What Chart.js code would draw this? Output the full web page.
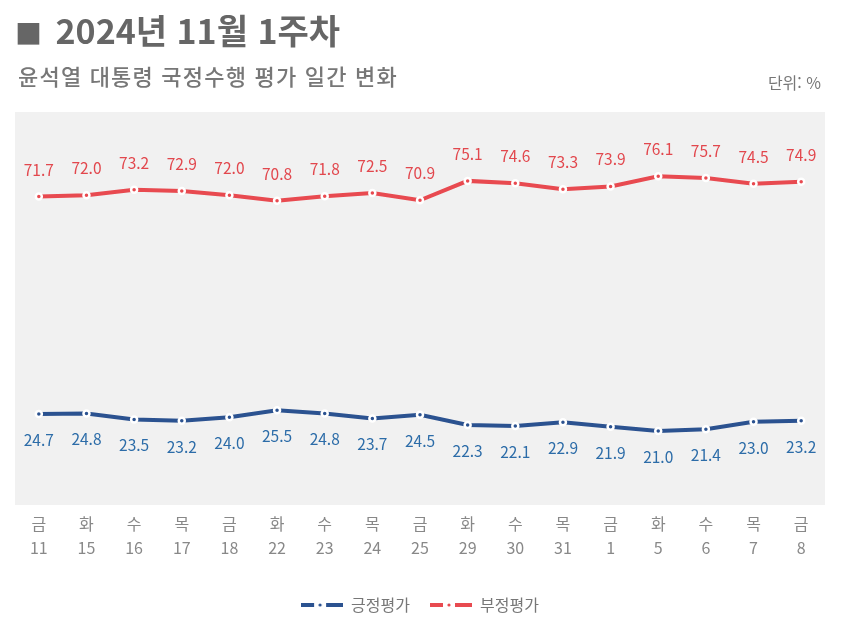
<!DOCTYPE html>
<html lang="ko">
<head>
    <meta charset="UTF-8">
    <title>2024년 11월 1주차</title>
    <script src="https://cdn.jsdelivr.net/npm/chart.js"></script>
    <style>
        body {
            margin: 0;
            padding: 0;
            width: 850px;
            height: 636px;
            background: #fff;
            font-family: "Noto Sans CJK KR", "Noto Sans", sans-serif;
            position: relative;
            overflow: hidden;
        }
        #title {
            position: absolute;
            left: 15px;
            top: 5px;
            font-size: 34px;
            font-weight: 700;
            color: #666;
        }
        #title .sq {
            font-size: 27px;
            margin-right: 4px;
        }
        #subtitle {
            position: absolute;
            left: 18px;
            top: 59px;
            font-size: 22px;
            font-weight: 500;
            letter-spacing: 1.2px;
            color: #777;
        }
        #unit {
            position: absolute;
            right: 29px;
            top: 70px;
            font-size: 16px;
            color: #777;
        }
        #wrap {
            position: absolute;
            left: 0;
            top: 0;
            width: 850px;
            height: 636px;
        }
    </style>
</head>
<body>
    <div id="wrap"><canvas id="chart"></canvas></div>
    <div id="title"><span class="sq">■</span> 2024년 11월 1주차</div>
    <div id="subtitle">윤석열 대통령 국정수행 평가 일간 변화</div>
    <div id="unit">단위: %</div>
    <script>
        // 요일 / 날짜
        const weekdays = ['금', '화', '수', '목', '금', '화', '수', '목', '금', '화', '수', '목', '금', '화', '수', '목', '금'];
        const days = ['11', '15', '16', '17', '18', '22', '23', '24', '25', '29', '30', '31', '1', '5', '6', '7', '8'];

        const positive = [24.7, 24.8, 23.5, 23.2, 24.0, 25.5, 24.8, 23.7, 24.5, 22.3, 22.1, 22.9, 21.9, 21.0, 21.4, 23.0, 23.2];
        const negative = [71.7, 72.0, 73.2, 72.9, 72.0, 70.8, 71.8, 72.5, 70.9, 75.1, 74.6, 73.3, 73.9, 76.1, 75.7, 74.5, 74.9];

        const BLUE = '#2b5290';
        const BLUE_TEXT = '#2c6ca8';
        const RED = '#e84a50';
        const RED_TEXT = '#e2474d';

        const labels = weekdays.map((w, i) => [w, days[i]]);

        // 범례 기호 (—·—)
        function legendSymbol(color) {
            const c = document.createElement('canvas');
            c.width = 42;
            c.height = 8;
            const g = c.getContext('2d');
            g.fillStyle = color;
            g.fillRect(0, 2, 13, 4);
            g.beginPath();
            g.arc(19, 4, 1.6, 0, Math.PI * 2);
            g.fill();
            g.fillRect(25, 2, 17, 4);
            return c;
        }

        const plotBackground = {
            id: 'plotBackground',
            beforeDraw(chart) {
                const { ctx, chartArea: a } = chart;
                ctx.save();
                ctx.fillStyle = '#f1f1f1';
                ctx.fillRect(a.left, a.top, a.right - a.left, a.bottom - a.top);
                ctx.restore();
            }
        };

        const valueLabels = {
            id: 'valueLabels',
            afterDatasetsDraw(chart, args, opts) {
                const ctx = chart.ctx;
                ctx.save();
                ctx.font = '15.5px "Noto Sans CJK KR", "Noto Sans", sans-serif';
                ctx.textAlign = 'center';
                ctx.textBaseline = 'middle';
                chart.data.datasets.forEach((ds, di) => {
                    const meta = chart.getDatasetMeta(di);
                    ctx.fillStyle = opts.colors[di];
                    meta.data.forEach((pt, i) => {
                        ctx.fillText(ds.data[i].toFixed(1), pt.x, pt.y + opts.offsets[di]);
                    });
                });
                ctx.restore();
            }
        };

        const ctx = document.getElementById('chart').getContext('2d');
        new Chart(ctx, {
            type: 'line',
            data: {
                labels: labels,
                datasets: [
                    {
                        label: '긍정평가',
                        data: positive,
                        borderColor: BLUE,
                        backgroundColor: BLUE,
                        borderWidth: 4,
                        pointRadius: 3,
                        pointBorderWidth: 2.5,
                        pointBorderColor: '#fff',
                        pointBackgroundColor: BLUE,
                        tension: 0
                    },
                    {
                        label: '부정평가',
                        data: negative,
                        borderColor: RED,
                        backgroundColor: RED,
                        borderWidth: 4,
                        pointRadius: 3,
                        pointBorderWidth: 2.5,
                        pointBorderColor: '#fff',
                        pointBackgroundColor: RED,
                        tension: 0
                    }
                ]
            },
            options: {
                responsive: true,
                maintainAspectRatio: false,
                animation: false,
                layout: {
                    padding: { top: 112, left: 15, right: 25, bottom: 13 }
                },
                scales: {
                    x: {
                        offset: true,
                        grid: { display: false, drawTicks: false },
                        border: { display: false },
                        ticks: {
                            color: '#888',
                            padding: 7,
                            maxRotation: 0,
                            autoSkip: false,
                            font: { family: '"Noto Sans CJK KR", "Noto Sans", sans-serif', size: 16, lineHeight: 1.5 }
                        },
                        afterFit(scale) { scale.height = 72; }
                    },
                    y: {
                        display: false,
                        min: 5,
                        max: 90
                    }
                },
                plugins: {
                    tooltip: { enabled: false },
                    legend: {
                        position: 'bottom',
                        labels: {
                            usePointStyle: true,
                            pointStyleWidth: 42,
                            padding: 20,
                            color: '#777',
                            font: { family: '"Noto Sans CJK KR", "Noto Sans", sans-serif', size: 16 },
                            generateLabels(chart) {
                                return chart.data.datasets.map((ds, i) => ({
                                    text: ds.label,
                                    pointStyle: legendSymbol(ds.borderColor),
                                    fillStyle: ds.borderColor,
                                    strokeStyle: ds.borderColor,
                                    lineWidth: 0,
                                    fontColor: '#777',
                                    hidden: false,
                                    datasetIndex: i
                                }));
                            }
                        }
                    },
                    valueLabels: {
                        offsets: [26, -27],
                        colors: [BLUE_TEXT, RED_TEXT]
                    }
                }
            },
            plugins: [plotBackground, valueLabels]
        });
    </script>
</body>
</html>
